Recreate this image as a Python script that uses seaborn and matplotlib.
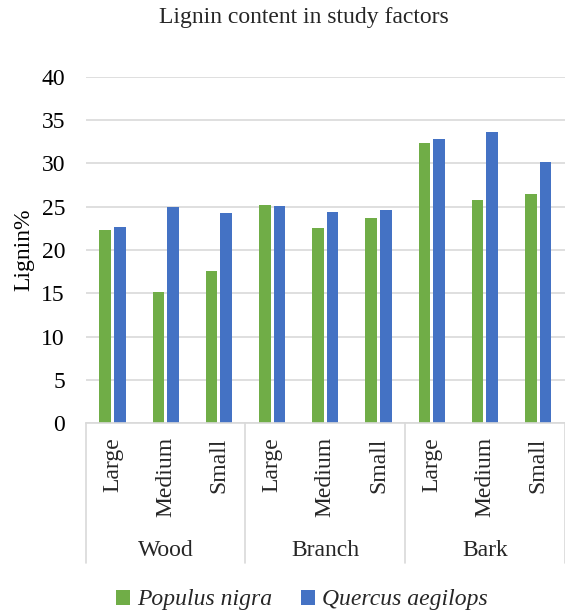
import matplotlib
matplotlib.use("Agg")
import matplotlib.pyplot as plt
import matplotlib.transforms as mtransforms
from matplotlib.patches import Patch
import seaborn as sns
import pandas as pd

# Lignin content (%) per tissue and size class
groups = ["Wood", "Branch", "Bark"]
sizes = ["Large", "Medium", "Small"]
species = ["Populus nigra", "Quercus aegilops"]
populus = [22.3, 15.2, 17.6, 25.2, 22.5, 23.7, 32.4, 25.8, 26.5]
quercus = [22.7, 25.0, 24.3, 25.1, 24.4, 24.6, 32.8, 33.6, 30.2]

colors = ["#70AD47", "#4472C4"]
grid_col = "#D9D9D9"
fs = 17

rows = []
for gi, g in enumerate(groups):
    for si, s in enumerate(sizes):
        k = gi * len(sizes) + si
        rows.append({"cat": f"{g}|{s}", "group": g, "size": s,
                     "species": species[0], "lignin": populus[k]})
        rows.append({"cat": f"{g}|{s}", "group": g, "size": s,
                     "species": species[1], "lignin": quercus[k]})
df = pd.DataFrame(rows)
order = [f"{g}|{s}" for g in groups for s in sizes]

sns.set_theme(style="white")
plt.rcParams["font.family"] = ["Liberation Serif", "DejaVu Serif"]

fig = plt.figure(figsize=(5.65, 6.15), dpi=100)
ax = fig.add_axes([0.152, 0.3117, 0.8475, 0.5633])

sns.barplot(data=df, x="cat", y="lignin", hue="species", order=order,
            hue_order=species, palette=colors, saturation=1, width=0.55,
            gap=0.2, edgecolor="none", linewidth=0, errorbar=None,
            legend=False, ax=ax)

ax.set_ylim(0, 40)
ax.set_yticks(range(0, 41, 5))
ax.yaxis.grid(True, color=grid_col, linewidth=1.2)
ax.set_axisbelow(True)
for side in ["top", "right", "left"]:
    ax.spines[side].set_visible(False)
ax.spines["bottom"].set_color(grid_col)
ax.spines["bottom"].set_linewidth(1.2)
ax.tick_params(axis="y", length=0, pad=15, labelsize=fs, labelcolor="black")
ax.tick_params(axis="x", length=0)
ax.set_xticklabels([])
ax.set_xlabel("")
ax.set_ylabel("Lignin%", fontsize=fs, color="black", labelpad=5)
ax.set_xlim(-0.5, len(order) - 0.5)

# Two-level category axis: size labels, group labels, and separators
trans = mtransforms.blended_transform_factory(ax.transData, ax.transAxes)
xt = ax.get_xticks()
size_labels = df.drop_duplicates("cat")["size"].tolist()
for x, lab in zip(xt, size_labels):
    ax.text(x, -0.040, lab, rotation=90, ha="center", va="top",
            fontsize=fs, transform=trans)
n = len(sizes)
for gi, g in enumerate(groups):
    cx = (xt[gi * n] + xt[gi * n + n - 1]) / 2
    ax.text(cx, -0.366, g, ha="center", va="center", fontsize=fs,
            transform=trans)
for gi in range(len(groups) + 1):
    xb = -0.5 + gi * n
    ax.plot([xb, xb], [0, -0.403], color=grid_col, lw=1.2,
            transform=trans, clip_on=False)

fig.text(0.537, 1 - 18 / 615, "Lignin content in study factors",
         ha="center", va="center", fontsize=fs)

handles = [Patch(facecolor=c, edgecolor="none") for c in colors]
fig.legend(handles, species, loc="center", bbox_to_anchor=(0.534, 1 - 600 / 615),
           ncol=2, frameon=False, handlelength=0.6, handleheight=0.6,
           handletextpad=0.3, columnspacing=1.2,
           prop={"family": "Liberation Serif", "style": "italic", "size": fs})

fig.savefig("out.png", dpi=100)
